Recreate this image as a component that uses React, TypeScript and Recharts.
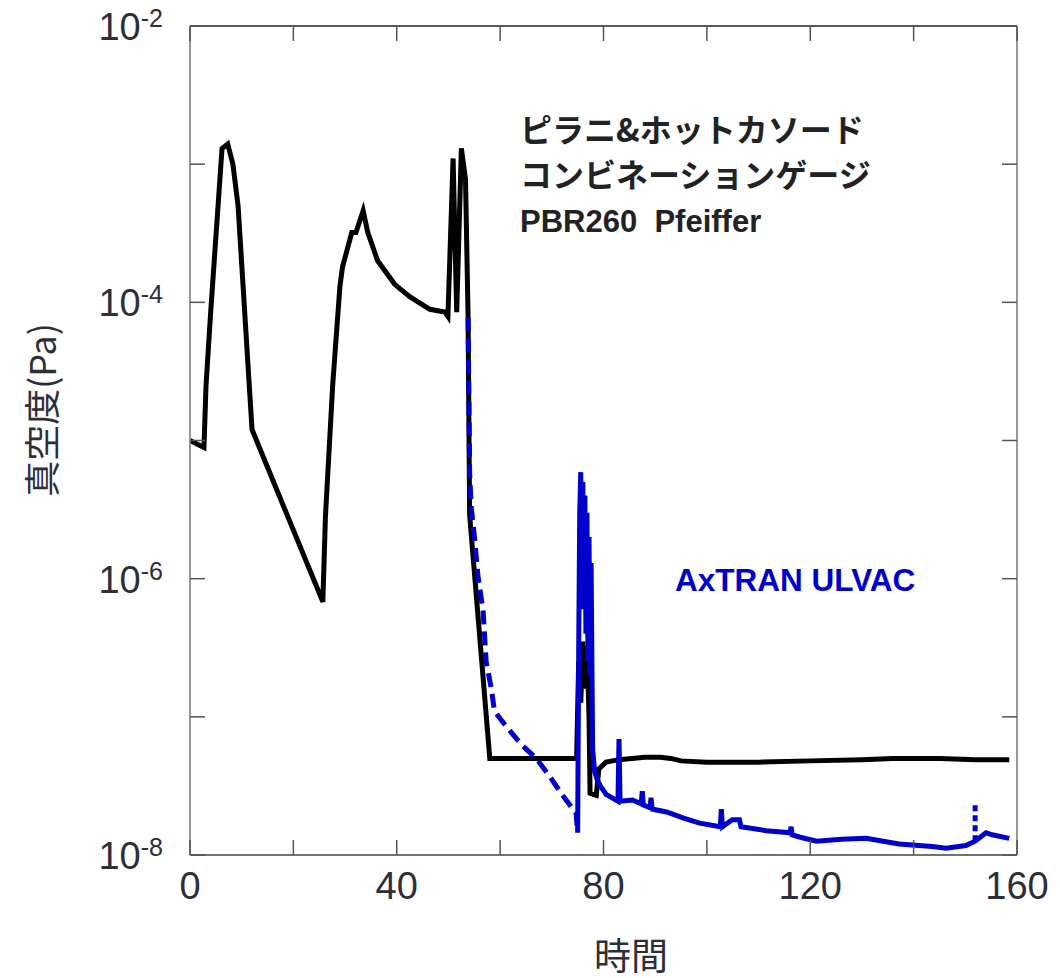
import React from "react";
import {
  LineChart,
  Line,
  XAxis,
  YAxis,
  Customized,
} from "recharts";

// time axis (bottom/top)
const timeTicks = [0, 20, 40, 60, 80, 100, 120, 140, 160];
// pressure axis, one tick per decade
const pressureTicks = [1e-8, 1e-7, 1e-6, 1e-5, 1e-4, 1e-3, 1e-2];

// PBR260 Pfeiffer (Pirani & hot cathode)
const piraniTime = [
  0, 2.7, 3.1, 4.0, 6.2, 7.3, 8.3, 9.3, 12.0, 25.7, 26.2, 27.6, 29.0, 29.5,
  31.3, 32.1, 33.5, 34.4, 36.3, 39.6, 42.5, 46.4, 49.3, 49.9, 50.9, 51.6,
  52.5, 53.3, 53.8, 54.1, 58.0, 74.8, 75.2, 75.6, 76.0, 76.4, 76.8, 77.2,
  77.4, 78.6, 79.1, 80.5, 83.0, 88.0, 91.0, 93.0, 95.0, 100, 110, 120, 130,
  136, 145, 152, 158.5,
];
const piraniPressure = [
  1.0e-5, 8.9e-6, 2.5e-5, 8.5e-5, 1.3e-3, 1.4e-3, 1.0e-3, 5.0e-4, 1.2e-5,
  6.8e-7, 2.8e-6, 2.5e-5, 1.3e-4, 1.8e-4, 3.2e-4, 3.2e-4, 4.6e-4, 3.2e-4,
  2.0e-4, 1.35e-4, 1.1e-4, 8.9e-5, 8.5e-5, 7.9e-5, 1.1e-3, 8.5e-5, 1.3e-3,
  7.8e-4, 7.9e-5, 2.9e-6, 5.0e-8, 5.0e-8, 2.5e-7, 1.26e-7, 3.5e-7, 1.6e-7,
  3.2e-7, 1.0e-7, 2.8e-8, 2.7e-8, 4.2e-8, 4.7e-8, 4.9e-8, 5.1e-8, 5.1e-8,
  5.0e-8, 4.8e-8, 4.7e-8, 4.7e-8, 4.8e-8, 4.9e-8, 5.0e-8, 5.0e-8, 4.9e-8,
  4.9e-8,
];

// AxTRAN ULVAC, dashed part while pumping down
const axtranDashTime = [
  53.8, 54.0, 54.1, 54.4, 55.1, 55.7, 56.7, 57.3, 58.3, 58.9, 61.2, 64.1,
  67.0, 69.6, 72.1, 74.7, 75.0,
];
const axtranDashPressure = [
  7.8e-5, 1.4e-5, 5.9e-6, 3.3e-6, 1.9e-6, 1.05e-6, 5.9e-7, 2.5e-7, 1.6e-7,
  1.1e-7, 8.5e-8, 6.3e-8, 5.0e-8, 3.7e-8, 2.7e-8, 2.0e-8, 1.45e-8,
];

// AxTRAN ULVAC, solid part
const axtranTime = [
  75.0, 75.2, 75.4, 75.6, 75.8, 76.0, 76.2, 76.4, 76.6, 76.8, 77.0, 77.2,
  77.4, 77.6, 77.8, 77.9, 78.3, 78.8, 79.3, 80.5, 82.8, 83.0, 83.2, 85.6,
  87.3, 87.5, 87.7, 89.0, 89.2, 89.4, 92.2, 95.5, 98.6, 102.6, 102.8, 103.0,
  104.9, 106.3, 106.6, 111.5, 116.1, 116.3, 116.5, 117.9, 121.2, 126.0,
  130.8, 137.2, 143.6, 146.3, 150.1, 151.9, 154.0, 155.2, 158.5,
];
const axtranPressure = [
  1.45e-8, 3.0e-7, 3.0e-6, 5.9e-6, 8.0e-7, 5.0e-6, 6.0e-7, 4.0e-6, 4.0e-7,
  3.0e-6, 2.5e-7, 2.0e-6, 2.0e-7, 1.3e-6, 1.6e-7, 5.8e-8, 4.0e-8, 3.5e-8,
  3.2e-8, 2.75e-8, 2.45e-8, 6.9e-8, 2.45e-8, 2.5e-8, 2.35e-8, 2.9e-8,
  2.3e-8, 2.2e-8, 2.6e-8, 2.15e-8, 2.05e-8, 1.85e-8, 1.7e-8, 1.6e-8,
  2.15e-8, 1.6e-8, 1.8e-8, 1.8e-8, 1.6e-8, 1.5e-8, 1.45e-8, 1.6e-8, 1.4e-8,
  1.35e-8, 1.26e-8, 1.3e-8, 1.32e-8, 1.2e-8, 1.15e-8, 1.12e-8, 1.17e-8,
  1.26e-8, 1.45e-8, 1.4e-8, 1.32e-8,
];

// small dashed spike near the end
const axtranSpikeTime = [151.9, 151.9];
const axtranSpikePressure = [1.26e-8, 2.4e-8];

const toRows = (ts: number[], ps: number[]) =>
  ts.map((t, i) => ({ t, p: ps[i] }));

const piraniData = toRows(piraniTime, piraniPressure);
const axtranDashData = toRows(axtranDashTime, axtranDashPressure);
const axtranData = toRows(axtranTime, axtranPressure);
const axtranSpikeData = toRows(axtranSpikeTime, axtranSpikePressure);

const TEXT = "#2e2e38";
const TICK = "#555";
const SANS = "'Liberation Sans', Arial, sans-serif";
const CJK = "'Noto Sans CJK JP', 'Noto Sans', sans-serif";
const TICK_LEN = 15;

const LeftTick = (props: any) => {
  const { x, y, payload } = props;
  const exp = Math.round(Math.log10(payload.value));
  return (
    <g>
      <line x1={x} y1={y} x2={x + TICK_LEN} y2={y} stroke={TICK} strokeWidth={1.5} />
      {exp % 2 === 0 && (
        <text x={x - 27} y={y + 14} textAnchor="end" fill={TEXT} fontFamily={SANS} fontSize={38}>
          <tspan>10</tspan>
          <tspan fontSize={25} dy={-13}>{exp}</tspan>
        </text>
      )}
    </g>
  );
};

const RightTick = (props: any) => {
  const { x, y } = props;
  return <line x1={x} y1={y} x2={x - TICK_LEN} y2={y} stroke={TICK} strokeWidth={1.5} />;
};

const BottomTick = (props: any) => {
  const { x, y, payload } = props;
  return (
    <g>
      <line x1={x} y1={y} x2={x} y2={y - TICK_LEN} stroke={TICK} strokeWidth={1.5} />
      {payload.value % 40 === 0 && (
        <text x={x} y={y + 44} textAnchor="middle" fill={TEXT} fontFamily={SANS} fontSize={38}>
          {payload.value}
        </text>
      )}
    </g>
  );
};

const TopTick = (props: any) => {
  const { x, y } = props;
  return <line x1={x} y1={y} x2={x} y2={y + TICK_LEN} stroke={TICK} strokeWidth={1.5} />;
};

const Annotations = () => (
  <g>
    <text x={32} y={402} transform="rotate(-90 32 402)" textAnchor="middle"
      dominantBaseline="central" fill={TEXT} fontFamily={CJK} fontSize={36}>
      真空度(Pa)
    </text>
    <text x={623} y={946} textAnchor="middle" dominantBaseline="central"
      fill={TEXT} fontFamily={CJK} fontSize={37}>
      時間
    </text>
    <text x={512} y={134} fill="#222" fontFamily={CJK} fontWeight={700} fontSize={32}>
      ピラニ&amp;ホットカソード
    </text>
    <text x={512} y={179} fill="#222" fontFamily={CJK} fontWeight={700} fontSize={32}>
      コンビネーションゲージ
    </text>
    <text x={512} y={224} fill="#222" fontFamily={SANS} fontWeight={700} fontSize={31}
      style={{ whiteSpace: "pre" }}>
      {"PBR260  Pfeiffer"}
    </text>
    <text x={667} y={583} fill="#0000cc" fontFamily={SANS} fontWeight={700} fontSize={31.5}>
      AxTRAN ULVAC
    </text>
  </g>
);

export default function App() {
  return (
    <LineChart
      width={1044}
      height={970}
      margin={{ top: 17, right: 34, left: 0, bottom: 0 }}
      style={{ overflow: "visible" }}
    >
      <XAxis
        xAxisId="b"
        type="number"
        dataKey="t"
        domain={[0, 160]}
        ticks={timeTicks}
        interval={0}
        height={123}
        tickSize={0}
        tickMargin={0}
        tickLine={false}
        axisLine={{ stroke: "#444", strokeWidth: 1.5 }}
        tick={<BottomTick />}
        allowDataOverflow
      />
      <XAxis
        xAxisId="t"
        orientation="top"
        type="number"
        dataKey="t"
        domain={[0, 160]}
        ticks={timeTicks}
        interval={0}
        height={1}
        tickSize={0}
        tickMargin={0}
        tickLine={false}
        axisLine={{ stroke: "#222", strokeWidth: 1.5 }}
        tick={<TopTick />}
        allowDataOverflow
      />
      <YAxis
        yAxisId="l"
        type="number"
        scale="log"
        domain={[1e-8, 1e-2]}
        ticks={pressureTicks}
        interval={0}
        width={182}
        tickSize={0}
        tickMargin={0}
        tickLine={false}
        axisLine={{ stroke: "#777", strokeWidth: 1.5 }}
        tick={<LeftTick />}
        allowDataOverflow
      />
      <YAxis
        yAxisId="r"
        orientation="right"
        type="number"
        scale="log"
        domain={[1e-8, 1e-2]}
        ticks={pressureTicks}
        interval={0}
        width={1}
        tickSize={0}
        tickMargin={0}
        tickLine={false}
        axisLine={{ stroke: "#777", strokeWidth: 1.5 }}
        tick={<RightTick />}
        allowDataOverflow
      />
      <Line
        xAxisId="b"
        yAxisId="l"
        data={piraniData}
        dataKey="p"
        type="linear"
        stroke="#000"
        strokeWidth={5}
        dot={false}
        isAnimationActive={false}
      />
      <Line
        xAxisId="b"
        yAxisId="l"
        data={axtranDashData}
        dataKey="p"
        type="linear"
        stroke="#0000cc"
        strokeWidth={5}
        strokeDasharray="14 7"
        dot={false}
        isAnimationActive={false}
      />
      <Line
        xAxisId="b"
        yAxisId="l"
        data={axtranData}
        dataKey="p"
        type="linear"
        stroke="#0000cc"
        strokeWidth={5}
        dot={false}
        isAnimationActive={false}
      />
      <Line
        xAxisId="b"
        yAxisId="l"
        data={axtranSpikeData}
        dataKey="p"
        type="linear"
        stroke="#0000cc"
        strokeWidth={5}
        strokeDasharray="6 4"
        dot={false}
        isAnimationActive={false}
      />
      <Customized component={Annotations} />
    </LineChart>
  );
}
